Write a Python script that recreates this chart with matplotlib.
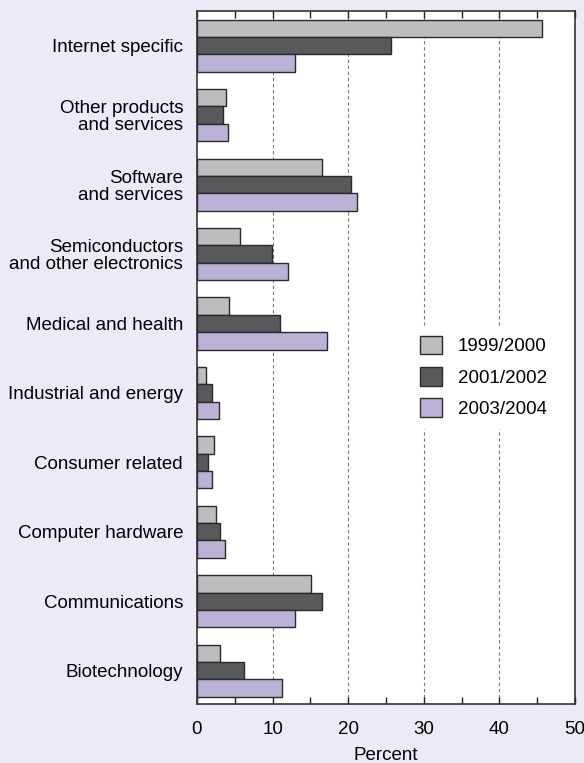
import matplotlib.pyplot as plt
import numpy as np

# categories listed top to bottom as in the chart
categories = ['Internet specific', 'Other products\nand services', 'Software\nand services',
              'Semiconductors\nand other electronics', 'Medical and health',
              'Industrial and energy', 'Consumer related', 'Computer hardware',
              'Communications', 'Biotechnology']
series_labels = ['1999/2000', '2001/2002', '2003/2004']
vals_1999 = [45.6, 3.9, 16.6, 5.7, 4.2, 1.2, 2.2, 2.5, 15.1, 3.1]
vals_2001 = [25.7, 3.5, 20.4, 9.9, 11.0, 2.0, 1.5, 3.0, 16.6, 6.2]
vals_2003 = [13.0, 4.15, 21.2, 12.1, 17.2, 2.9, 2.0, 3.75, 13.0, 11.2]
colors = ['#BCBDBF', '#58595B', '#BCB1D6']
bg = '#ECEAF4'

plt.rcParams['font.family'] = ['Liberation Sans', 'DejaVu Sans']
plt.rcParams['font.size'] = 13.5

fig = plt.figure(figsize=(5.84, 7.63), dpi=100, facecolor=bg)
ax = fig.add_axes([0.3373, 0.0773, 0.6473, 0.9083])

n = len(categories)
y = np.arange(n)[::-1]  # first category at top
h = 0.25
for i, (vals, lab) in enumerate(zip([vals_1999, vals_2001, vals_2003], series_labels)):
    ax.barh(y + h * (1 - i), vals, height=h, color=colors[i], edgecolor='#2a2a2a',
            linewidth=1.0, label=lab, zorder=3)

ax.set_xlim(0, 50)
ax.set_ylim(-0.48, n - 0.5)
ax.set_yticks(y)
ax.set_yticklabels(categories, linespacing=1.0)
ax.tick_params(axis='y', length=0, pad=10)

ax.set_xticks(np.arange(0, 51, 10))
ax.set_xticks(np.arange(5, 50, 10), minor=True)
ax.tick_params(axis='x', which='both', direction='in', top=True, length=5,
               width=1, color='#222222', pad=12)
for xv in [10, 20, 30, 40]:
    ax.axvline(xv, color='#777777', linestyle=(0, (3, 2.5)), linewidth=0.8, zorder=1)
ax.set_xlabel('Percent', labelpad=6.5)

for s in ax.spines.values():
    s.set_color('#333333')
    s.set_linewidth(1.2)

leg = ax.legend(loc='center left', bbox_to_anchor=(0.541, 0.472), frameon=True,
                fancybox=False, handlelength=1.17, handleheight=1.17,
                labelspacing=0.62, handletextpad=0.85, borderpad=0.5)
leg.get_frame().set_facecolor('white')
leg.get_frame().set_edgecolor('white')
leg.get_frame().set_alpha(1)
leg.set_zorder(5)

fig.savefig('out.png', dpi=100, facecolor=bg)
